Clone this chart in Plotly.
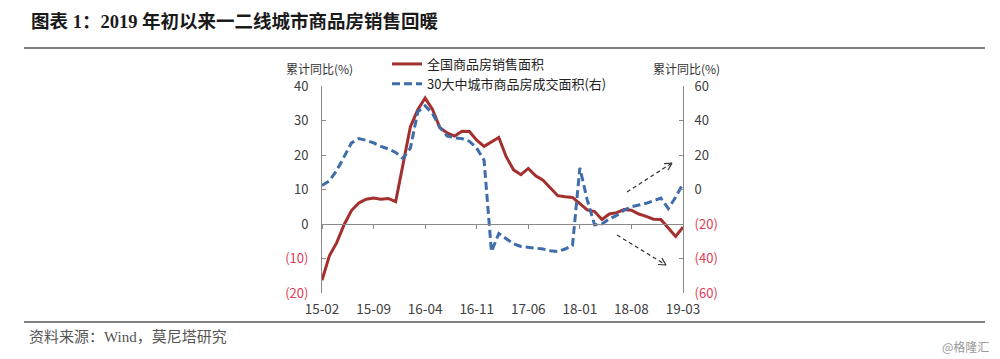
import math
import plotly.graph_objects as go

# ---------------- data ----------------
months = [f"{y:02d}-{m:02d}" for y in range(15, 20) for m in range(1, 13)]
months = months[months.index("15-02"):months.index("19-03") + 1]

national_sales_area = [
    -16.3, -9.2, -5.4, -0.2, 3.9, 6.1, 7.2, 7.5, 7.2, 7.4, 6.5,          # 15-02..15-12
    None, 28.2, 33.1, 36.5, 33.2, 27.9, 26.4, 25.5, 26.9, 26.8, 24.3, 22.5,  # 16-01..16-12
    None, 25.1, 19.5, 15.7, 14.3, 16.1, 14.0, 12.7, 10.3, 8.2, 7.9, 7.7,     # 17-01..17-12
    None, 4.1, 3.6, 1.3, 2.9, 3.3, 4.2, 4.0, 2.9, 2.2, 1.4, 1.3,             # 18-01..18-12
    None, -3.6, -0.9,                                                      # 19-01..19-03
]

city30_area = [
    2.3, 5.0, 11.0, 19.0, 27.0, 29.5, 28.5, 27.0, 25.0, 23.5, 21.5,        # 15-02..15-12
    18.0, 24.0, 45.0, 48.5, 44.0, 36.0, 31.0, 30.0, 29.5, 28.0, 24.0, 17.0,  # 16
    -36.0, -25.5, -28.5, -31.5, -33.0, -33.5, -34.0, -34.5, -35.5, -36.0, -34.5, -32.5,  # 17
    12.5, -6.0, -20.5, -20.0, -17.0, -15.0, -12.0, -10.0, -9.0, -8.0, -6.5, -5.0,        # 18
    -11.0, -4.5, 3.5,                                                      # 19
]

x_tick_labels = ["15-02", "15-09", "16-04", "16-11", "17-06", "18-01", "18-08", "19-03"]
left_ticks = [-20, -10, 0, 10, 20, 30, 40]
right_ticks = [-60, -40, -20, 0, 20, 40, 60]

series_names = ["全国商品房销售面积", "30大中城市商品房成交面积(右)"]

# ---------------- style ----------------
W, H = 1000, 359
ML, MR, MT, MB = 322, 317, 86, 66
PW, PH = W - ML - MR, H - MT - MB
RED = "#A3302F"
BLUE = "#3F6DAA"
NEG = "#E23B55"
TXT = "#404040"
AXIS = "#8a8a8a"
FONT = "Noto Sans CJK SC, Open Sans, sans-serif"


def fmt(v, color_neg=NEG):
    if v < 0:
        return f'<span style="color:{color_neg}">({abs(v)})</span>'
    return str(v)


def px2paper(px, py):
    return (px - ML) / PW, (MT + PH - py) / PH


fig = go.Figure()
fig.add_trace(go.Scatter(
    x=months, y=national_sales_area, name=series_names[0], mode="lines",
    line=dict(color=RED, width=3), connectgaps=True,
))
fig.add_trace(go.Scatter(
    x=months, y=city30_area, name=series_names[1], mode="lines", yaxis="y2",
    line=dict(color=BLUE, width=3, dash="8px,4px"),
))
# empty helper trace so the tick axis on the zero line exists
fig.add_trace(go.Scatter(
    x=months, y=[None] * len(months), xaxis="x2", showlegend=False,
    hoverinfo="skip", mode="lines",
))

n = len(months)
lgx, lgy = px2paper(387, 49)
fig.update_layout(
    width=W, height=H,
    margin=dict(l=ML, r=MR, t=MT, b=MB),
    paper_bgcolor="white", plot_bgcolor="white",
    font=dict(family=FONT, size=13, color=TXT),
    showlegend=True,
    legend=dict(
        x=lgx, y=lgy, xanchor="left", yanchor="top",
        bgcolor="rgba(0,0,0,0)", borderwidth=0, tracegroupgap=0,
        font=dict(size=13, color="#222"),
    ),
    xaxis=dict(
        type="category", categoryorder="array", categoryarray=months,
        range=[0, n - 1], tickmode="array", tickvals=x_tick_labels, ticktext=x_tick_labels,
        ticks="", showline=False, showgrid=False, zeroline=False, ticklabelstandoff=6,
        tickfont=dict(size=13.5, color=TXT),
    ),
    xaxis2=dict(
        type="category", categoryorder="array", categoryarray=months,
        range=[0, n - 1], overlaying="x", anchor="free", position=1 / 3, side="bottom",
        tickmode="array", tickvals=x_tick_labels, showticklabels=False,
        ticks="outside", ticklen=4, tickcolor=AXIS, showline=True, linecolor=AXIS,
        linewidth=1, showgrid=False, zeroline=False,
    ),
    yaxis=dict(
        range=[-20, 40], tickmode="array", tickvals=left_ticks,
        ticktext=[fmt(v) for v in left_ticks],
        ticks="inside", ticklen=4, tickcolor=AXIS, showline=True, linecolor=AXIS,
        linewidth=1, showgrid=False, zeroline=False, ticklabelstandoff=10,
        tickfont=dict(size=13, color=TXT),
    ),
    yaxis2=dict(
        range=[-60, 60], tickmode="array", tickvals=right_ticks,
        ticktext=[fmt(v) for v in right_ticks], overlaying="y", side="right",
        ticks="inside", ticklen=4, tickcolor=AXIS, showline=True, linecolor=AXIS,
        linewidth=1, showgrid=False, zeroline=False, ticklabelstandoff=8,
        tickfont=dict(size=13, color=TXT),
    ),
)

shapes = []
annotations = []

# rules under title and above footer (paper pixels)
for ry in (48, 322):
    x0, y0 = px2paper(24, ry)
    x1, _ = px2paper(985, ry)
    shapes.append(dict(type="line", xref="paper", yref="paper", x0=x0, x1=x1, y0=y0, y1=y0,
                       line=dict(color="#555", width=1.3)))

# dashed trend arrows
for (sx, sy), (ex, ey) in [((627, 192), (672, 163)), ((617, 235), (666, 265))]:
    a0 = px2paper(sx, sy)
    a1 = px2paper(ex, ey)
    shapes.append(dict(type="line", xref="paper", yref="paper", x0=a0[0], y0=a0[1], x1=a1[0], y1=a1[1],
                       line=dict(color="#333", width=1.2, dash="4px,3px")))
    ang = math.atan2(ey - sy, ex - sx)
    for d in (math.radians(28), -math.radians(28)):
        hx = ex - 8 * math.cos(ang + d)
        hy = ey - 8 * math.sin(ang + d)
        h = px2paper(hx, hy)
        shapes.append(dict(type="line", xref="paper", yref="paper", x0=h[0], y0=h[1], x1=a1[0], y1=a1[1],
                           line=dict(color="#333", width=1.2)))


def text_px(px, py, text, size, color, family=FONT, xanchor="left"):
    x, y = px2paper(px, py)
    annotations.append(dict(xref="paper", yref="paper", x=x, y=y, text=text, showarrow=False,
                            xanchor=xanchor, yanchor="middle",
                            font=dict(size=size, color=color, family=family)))


text_px(29, 22, "<b>图表 1：2019 年初以来一二线城市商品房销售回暖</b>", 18.5, "#1a1a1a",
        family="Liberation Serif, Noto Sans CJK SC, serif")
text_px(319, 68, "累计同比(%)", 12, "#333", xanchor="center")
text_px(686, 68, "累计同比(%)", 12, "#333", xanchor="center")
text_px(27, 337, "资料来源：Wind，莫尼塔研究", 15, "#555",
        family="Liberation Serif, Noto Sans CJK SC, serif")
text_px(991, 346, "@格隆汇", 12, "#999", xanchor="right")

fig.update_layout(shapes=shapes, annotations=annotations)
fig.write_html(
    "out.html",
    config={"displayModeBar": False},
    post_script="document.body.style.margin='0';document.body.style.overflow='hidden';",
)
